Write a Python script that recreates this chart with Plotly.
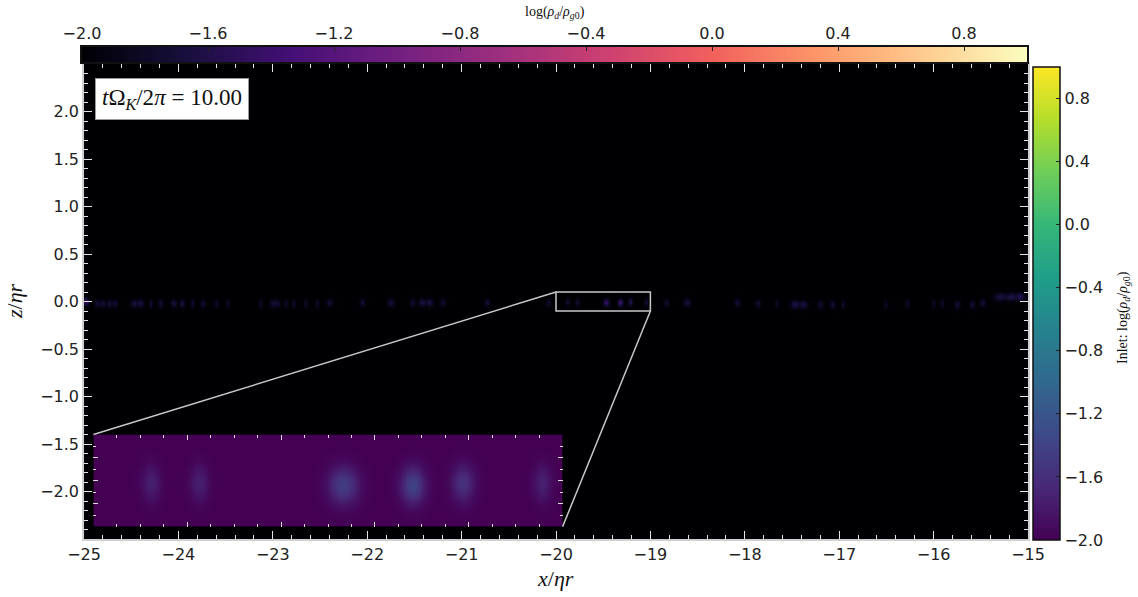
import numpy as np
import plotly.graph_objects as go

# Dust clumps along the midplane: centre x, centre z, peak log(rho_d/rho_g0), width in x
clump_x = [-24.98, -24.86, -24.80, -24.73, -24.67, -24.47, -24.40, -24.29, -24.19, -24.05,
           -23.96, -23.85, -23.74, -23.60, -23.48, -23.13, -23.00, -22.95, -22.86, -22.78,
           -22.65, -22.53, -22.40, -22.05, -21.75, -21.52, -21.42, -21.34, -21.20, -20.73,
           -20.08, -19.878, -19.775, -19.468, -19.32, -19.213, -19.044, -18.83, -18.61, -18.08,
           -17.86, -17.66, -17.47, -17.38, -17.20, -17.07, -16.96, -16.51, -16.28, -16.00,
           -15.91, -15.75, -15.59, -15.48, -15.30, -15.18, -15.08]
clump_z = [0.0, -0.02, -0.02, -0.02, -0.02, -0.02, -0.02, -0.02, -0.02, -0.02,
           -0.02, -0.02, -0.02, -0.02, -0.02, -0.02, -0.02, -0.02, -0.02, -0.02,
           -0.02, -0.02, -0.01, -0.01, -0.01, -0.01, -0.01, -0.01, -0.01, -0.01,
           -0.01, -0.005, -0.005, -0.01, -0.01, -0.005, -0.005, -0.01, -0.01, -0.01,
           -0.02, -0.02, -0.03, -0.03, -0.03, -0.03, -0.03, -0.03, -0.02, -0.02,
           -0.02, -0.03, -0.03, -0.01, 0.05, 0.05, 0.05]
clump_peak = [-1.40, -1.72, -1.72, -1.72, -1.75, -1.68, -1.68, -1.75, -1.72, -1.68,
              -1.68, -1.75, -1.72, -1.78, -1.78, -1.78, -1.72, -1.72, -1.78, -1.75,
              -1.78, -1.78, -1.72, -1.72, -1.68, -1.72, -1.64, -1.64, -1.75, -1.72,
              -1.75, -1.74, -1.74, -1.45, -1.40, -1.58, -1.72, -1.75, -1.68, -1.72,
              -1.72, -1.78, -1.62, -1.68, -1.75, -1.72, -1.75, -1.80, -1.78, -1.78,
              -1.78, -1.72, -1.72, -1.72, -1.66, -1.62, -1.58]
clump_sx = [0.02, 0.02, 0.02, 0.02, 0.02, 0.025, 0.025, 0.015, 0.02, 0.02,
            0.02, 0.015, 0.02, 0.015, 0.015, 0.015, 0.02, 0.02, 0.015, 0.015,
            0.015, 0.015, 0.025, 0.02, 0.025, 0.02, 0.025, 0.025, 0.02, 0.02,
            0.02, 0.014, 0.014, 0.022, 0.018, 0.017, 0.013, 0.02, 0.025, 0.02,
            0.02, 0.015, 0.03, 0.03, 0.02, 0.02, 0.015, 0.015, 0.015, 0.015,
            0.015, 0.02, 0.02, 0.02, 0.04, 0.04, 0.03]
clump_sz = 0.028

x_ticks = [-25, -24, -23, -22, -21, -20, -19, -18, -17, -16, -15]
z_ticks = [-2.0, -1.5, -1.0, -0.5, 0.0, 0.5, 1.0, 1.5, 2.0]
cbar_ticks = [-2.0, -1.6, -1.2, -0.8, -0.4, 0.0, 0.4, 0.8]
cbar_range = [-2.0, 1.0]

time_value = 10.00
zoom_x = [-20.0, -19.0]
zoom_z = [-0.1, 0.1]
inset_x = [-24.9, -19.93]   # inset frame in main-axis units
inset_z = [-2.37, -1.40]


def log_density(xg, zg):
    cx = np.array(clump_x)[None, None, :]
    cz = np.array(clump_z)[None, None, :]
    pk = np.array(clump_peak)[None, None, :]
    sx = np.array(clump_sx)[None, None, :]
    X = xg[None, :, None]
    Z = zg[:, None, None]
    g = (pk + 2.0) * np.exp(-0.5 * ((X - cx) / sx) ** 2 - 0.5 * ((Z - cz) / clump_sz) ** 2)
    return np.round(np.clip(-2.0 + g.sum(axis=-1), cbar_range[0], cbar_range[1]), 3)


# grids
xm = np.arange(-25.0, -14.999, 0.005)
zm = np.arange(-0.15, 0.1501, 0.005)
zi_x = np.arange(zoom_x[0], zoom_x[1] + 1e-9, 0.004)
zi_z = np.arange(zoom_z[0], zoom_z[1] + 1e-9, 0.002)
bar_x = np.linspace(cbar_range[0], cbar_range[1], 301)

W, H = 1138, 597
ML, MR, MT, MB = 82, 110, 47, 58
PW, PH = W - ML - MR, H - MT - MB


def py(px_y):
    """paper fraction for a pixel row measured from the top of the page"""
    return (H - MB - px_y) / PH


def px_x(px):
    return (px - ML) / PW


# main axes occupy px 84..1028 horizontally, 64..539 vertically
main_xd = [px_x(84), 1.0]
main_yd = [0.0, py(64)]
bar_xd = [0.0, px_x(1027)]
bar_yd = [py(62), 1.0]


def to_dom(v, lo, hi, dom):
    return dom[0] + (v - lo) / (hi - lo) * (dom[1] - dom[0])


inset_xd = [to_dom(inset_x[0], -25, -15, main_xd), to_dom(inset_x[1], -25, -15, main_xd)]
inset_yd = [to_dom(inset_z[0], -2.5, 2.5, main_yd), to_dom(inset_z[1], -2.5, 2.5, main_yd)]

fig = go.Figure()

fig.add_trace(go.Heatmap(
    x=xm, y=zm, z=log_density(xm, zm), colorscale="Magma",
    zmin=cbar_range[0], zmax=cbar_range[1], zsmooth="best", showscale=False,
    hoverinfo="skip", xaxis="x", yaxis="y"))

fig.add_trace(go.Heatmap(
    x=zi_x, y=zi_z, z=log_density(zi_x, zi_z), colorscale="Viridis",
    zmin=cbar_range[0], zmax=cbar_range[1], zsmooth="best", hoverinfo="skip",
    xaxis="x2", yaxis="y2",
    colorbar=dict(
        x=px_x(1033), xanchor="left", xpad=0, ypad=0,
        y=py(303.5), yanchor="middle", lenmode="pixels", len=473, thickness=27,
        outlinewidth=1.5, outlinecolor="#111111",
        tickvals=cbar_ticks, tickformat=".1f", ticks="inside", ticklen=4,
        tickcolor="#222222", tickfont=dict(family="DejaVu Sans", size=16, color="#222222"))))

# horizontal colour scale for the main panel
fig.add_trace(go.Heatmap(
    x=bar_x, y=[0], z=[bar_x], colorscale="Magma",
    zmin=cbar_range[0], zmax=cbar_range[1], showscale=False, hoverinfo="skip",
    xaxis="x3", yaxis="y3"))

tick_font = dict(family="DejaVu Sans", size=16, color="#222222")
spine = "#cfcfcf"

fig.update_layout(
    width=W, height=H,
    margin=dict(l=ML, r=MR, t=MT, b=MB, autoexpand=False),
    paper_bgcolor="white", plot_bgcolor="#000004",
    showlegend=False,
    font=dict(family="DejaVu Sans", size=16, color="#222222"),
    xaxis=dict(domain=main_xd, anchor="y", range=[-25, -15], tickvals=x_ticks,
               tickformat="d", ticks="inside", ticklen=8, tickwidth=1, tickcolor="#e6e6e6",
               minor=dict(dtick=0.2, tick0=-25, ticks="inside", ticklen=4, tickcolor="#e6e6e6"),
               showline=True, linecolor=spine, linewidth=1.5, mirror="ticks",
               showgrid=False, zeroline=False, tickfont=tick_font),
    yaxis=dict(domain=main_yd, anchor="x", range=[-2.5, 2.5], tickvals=z_ticks,
               tickformat=".1f", ticks="inside", ticklen=8, tickwidth=1, tickcolor="#e6e6e6",
               minor=dict(dtick=0.1, tick0=0, ticks="inside", ticklen=4, tickcolor="#e6e6e6"),
               showline=True, linecolor=spine, linewidth=1.5, mirror="ticks",
               showgrid=False, zeroline=False, tickfont=tick_font),
    xaxis2=dict(domain=inset_xd, anchor="y2", range=zoom_x, showticklabels=False,
                dtick=0.2, tick0=-20, ticks="inside", ticklen=5, tickcolor="#dddddd",
                minor=dict(dtick=0.05, ticks="inside", ticklen=3, tickcolor="#dddddd"),
                mirror="ticks", showline=False, showgrid=False, zeroline=False),
    yaxis2=dict(domain=inset_yd, anchor="x2", range=zoom_z, showticklabels=False,
                dtick=0.05, tick0=0, ticks="inside", ticklen=5, tickcolor="#dddddd",
                minor=dict(dtick=0.025, ticks="inside", ticklen=3, tickcolor="#dddddd"),
                mirror="ticks", showline=False, showgrid=False, zeroline=False),
    xaxis3=dict(domain=bar_xd, anchor="y3", range=cbar_range, side="top",
                tickvals=cbar_ticks, tickformat=".1f", ticks="inside", ticklen=4,
                tickcolor="#222222", showline=True, linecolor="#111111", linewidth=1.5,
                mirror=True, showgrid=False, zeroline=False, tickfont=tick_font),
    yaxis3=dict(domain=bar_yd, anchor="x3", range=[-0.5, 0.5], showticklabels=False,
                ticks="", showline=True, linecolor="#111111", linewidth=1.5, mirror=True,
                showgrid=False, zeroline=False),
)

line_style = dict(color="#c8c8c8", width=1.5)
fig.add_shape(type="rect", xref="x", yref="y", x0=zoom_x[0], x1=zoom_x[1],
              y0=zoom_z[0], y1=zoom_z[1], line=line_style, layer="above")
fig.add_shape(type="line", xref="x", yref="y", x0=zoom_x[0], y0=zoom_z[1],
              x1=inset_x[0], y1=inset_z[1], line=line_style, layer="above")
fig.add_shape(type="line", xref="x", yref="y", x0=zoom_x[1], y0=zoom_z[0],
              x1=inset_x[1], y1=inset_z[0], line=line_style, layer="above")

serif = "Liberation Serif"
fig.add_annotation(xref="x", yref="y", x=-24.88, y=2.13, xanchor="left", yanchor="middle",
                   text="<i>t</i>Ω<sub><i>K</i></sub>/2<i>π</i> = %.2f" % time_value,
                   showarrow=False, font=dict(family=serif, size=23, color="#111111"),
                   bgcolor="white", bordercolor="#999999", borderwidth=1, borderpad=6)
fig.add_annotation(xref="paper", yref="paper", x=px_x(555), y=py(12),
                   text="log(<i>ρ</i><sub><i>d</i></sub>/<i>ρ</i><sub><i>g</i>0</sub>)",
                   showarrow=False, font=dict(family=serif, size=14, color="#111111"),
                   xanchor="center", yanchor="middle")
fig.add_annotation(xref="paper", yref="paper", x=px_x(555), y=py(578),
                   text="<i>x</i>/<i>ηr</i>", showarrow=False,
                   font=dict(family=serif, size=22, color="#111111"),
                   xanchor="center", yanchor="middle")
fig.add_annotation(xref="paper", yref="paper", x=px_x(14), y=py(301),
                   text="<i>z</i>/<i>ηr</i>", showarrow=False, textangle=-90,
                   font=dict(family=serif, size=22, color="#111111"),
                   xanchor="center", yanchor="middle")
fig.add_annotation(xref="paper", yref="paper", x=px_x(1123), y=py(318),
                   text="Inlet: log(<i>ρ</i><sub><i>d</i></sub>/<i>ρ</i><sub><i>g</i>0</sub>)",
                   showarrow=False, textangle=-90,
                   font=dict(family=serif, size=14, color="#111111"),
                   xanchor="center", yanchor="middle")

fig.write_html("out.html")
